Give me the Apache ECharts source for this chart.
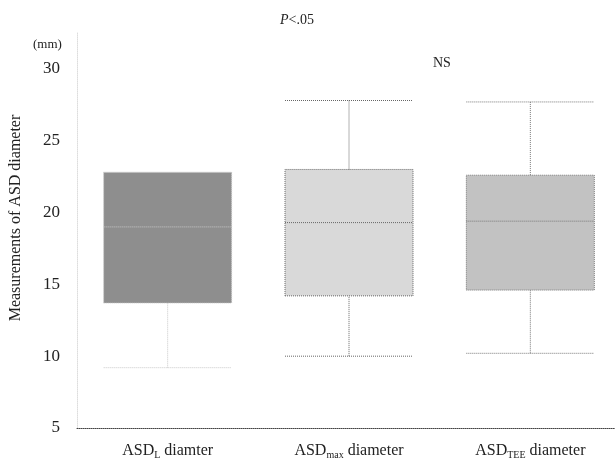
<!DOCTYPE html>
<html><head><meta charset="utf-8">
<script src="https://cdn.jsdelivr.net/npm/echarts@6/dist/echarts.min.js"></script>
<style>html,body{margin:0;padding:0;background:#fff;overflow:hidden}#c{width:621px;height:462px}</style>
</head><body><div id="c"></div>
<script>
var categories = ['L', 'max', 'TEE'];
var catLabels = ['{a|ASD}{s|L}{a| diamter}', '{a|ASD}{s|max}{a| diameter}', '{a|ASD}{s|TEE}{a| diameter}'];
var lowWhisker = [9.2, 10.0, 10.2];
var q1 = [13.7, 14.2, 14.6];
var median = [19.0, 19.3, 19.4];
var q3 = [22.8, 23.0, 22.6];
var highWhisker = [22.8, 27.8, 27.7];
var yTicks = [5, 10, 15, 20, 25, 30];
var yTitle = 'Measurements of ASD diameter';
var boxColors = ['#8e8e8e', '#d9d9d9', '#c2c2c2'];
var edgeColors = ['#c8c8c8', '#666666', '#777777'];

var serif = 'Liberation Serif, Times New Roman, serif';
var boxData = categories.map(function (c, i) {
  return {
    value: [lowWhisker[i], q1[i], median[i], q3[i], highWhisker[i]],
    itemStyle: { color: boxColors[i], borderColor: edgeColors[i] }
  };
});

var chart = echarts.init(document.getElementById('c'), null, { renderer: 'canvas' });
chart.setOption({
  animation: false,
  backgroundColor: '#fff',
  grid: { left: 77, right: 0, top: 33, bottom: 34 },
  title: [
    { text: '{i|P}<.05', left: 275, top: 8, textStyle: { fontFamily: serif, fontSize: 14, fontWeight: 'normal', color: '#222', rich: { i: { fontFamily: serif, fontStyle: 'italic', fontSize: 14, color: '#222' } } } },
    { text: 'NS', left: 428, top: 51, textStyle: { fontFamily: serif, fontSize: 14, fontWeight: 'normal', color: '#222' } },
    { text: '(mm)', left: 28, top: 33, textStyle: { fontFamily: serif, fontSize: 13, fontWeight: 'normal', color: '#222' } }
  ],
  graphic: [{
    type: 'text',
    x: 16, y: 218,
    rotation: Math.PI / 2,
    style: { text: yTitle, fontFamily: serif, fontSize: 16, fill: '#222', align: 'center', verticalAlign: 'middle' }
  }],
  xAxis: {
    type: 'category',
    data: categories,
    axisLine: { show: true, lineStyle: { color: '#444', type: 'dotted', width: 1 } },
    axisTick: { show: false },
    axisLabel: {
      interval: 0,
      margin: 14,
      formatter: function (v, i) { return catLabels[i]; },
      rich: {
        a: { fontFamily: serif, fontSize: 16, color: '#222' },
        s: { fontFamily: serif, fontSize: 10, color: '#222', verticalAlign: 'bottom', padding: [8, 0, 0, 0] }
      }
    }
  },
  yAxis: {
    type: 'value',
    min: 5, max: 32.5, interval: 5,
    axisLine: { show: true, lineStyle: { color: '#ddd', type: 'dotted' } },
    axisTick: { show: false },
    splitLine: { show: false },
    axisLabel: {
      margin: 17,
      fontFamily: serif, fontSize: 17, color: '#222',
      showMaxLabel: false,
      formatter: function (v) { return yTicks.indexOf(v) >= 0 ? String(v) : ''; }
    }
  },
  series: [{
    type: 'boxplot',
    data: boxData,
    boxWidth: [128, 128],
    itemStyle: { borderWidth: 1, borderType: 'dotted' },
    emphasis: { disabled: true }
  }]
});
</script></body></html>
